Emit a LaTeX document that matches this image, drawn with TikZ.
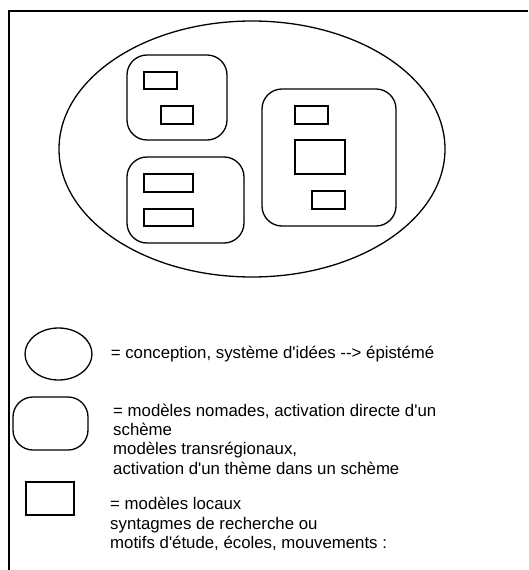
\documentclass[tikz,border=0pt]{standalone}
\usepackage{fontspec}
\setmainfont{Liberation Sans}[Ligatures = TeXOff]
\usetikzlibrary{
  shapes.geometric,
  positioning,
}
\tikzset{
  frame/.style = {
    line width = 1.3pt
  },
  concept/.style = {
    ellipse,
    draw = black,
    line width = 1.3pt,
    inner sep = 0pt
  },
  nomade/.style = {
    rectangle,
    rounded corners = 20pt,
    draw = black,
    line width = 1.3pt,
    inner sep = 0pt
  },
  local/.style = {
    rectangle,
    draw = black,
    line width = 1.3pt,
    inner sep = 0pt
  },
  legend/.style = {
    align = left,
    anchor = west,
    inner sep = 0pt,
    font = \fontsize{16.8}{19.4}\selectfont
  },
}

\begin{document}
\begin{tikzpicture}[x = 1pt, y = -1pt]
  \useasboundingbox (0, 0) rectangle (528, 570);
  \draw[frame] (9, 570) -- (9, 11) -- (528, 11);

  % episteme and its models
  \node[concept, minimum width = 386pt, minimum height = 256pt] (epis) at (252, 149) {};
  \node[nomade, minimum width = 100pt, minimum height = 85pt] (nomA) at (177, 97.5) {};
  \node[nomade, minimum width = 117pt, minimum height = 86pt] (nomB) at (185.5, 200) {};
  \node[nomade, minimum width = 134pt, minimum height = 137pt] (nomC) at (329, 157.5) {};
  \node[local, minimum width = 33pt, minimum height = 17pt] (locA) at (160.5, 80.5) {};
  \node[local, minimum width = 32pt, minimum height = 18pt] (locB) at (177, 115) {};
  \node[local, minimum width = 49pt, minimum height = 18pt] (locC) at (168.5, 183) {};
  \node[local, minimum width = 49pt, minimum height = 17pt] (locD) at (168.5, 217.5) {};
  \node[local, minimum width = 33pt, minimum height = 18pt] (locE) at (311.5, 115) {};
  \node[local, minimum width = 50pt, minimum height = 34pt] (locF) at (320, 157) {};
  \node[local, minimum width = 33pt, minimum height = 18pt] (locG) at (328.5, 200) {};

  % legend
  \node[concept, minimum width = 67pt, minimum height = 52pt] (keyconcept) at (58.5, 354) {};
  \node[nomade, minimum width = 75pt, minimum height = 53pt] (keynomade) at (50.5, 423.5) {};
  \node[local, minimum width = 48pt, minimum height = 33pt] (keylocal) at (50, 498.5) {};
  \node[legend, right = 18pt of keyconcept] (txtconcept)
    {= conception, système d'idées --> épistémé};
  \node[legend] (txtnomade) at (113, 439)
    {= modèles nomades, activation directe d'un\\schème\\modèles transrégionaux,\\activation d'un thème dans un schème};
  \node[legend] (txtlocal) at (110, 524)
    {= modèles locaux\\syntagmes de recherche ou\\motifs d'étude, écoles, mouvements :};
\end{tikzpicture}
\end{document}
